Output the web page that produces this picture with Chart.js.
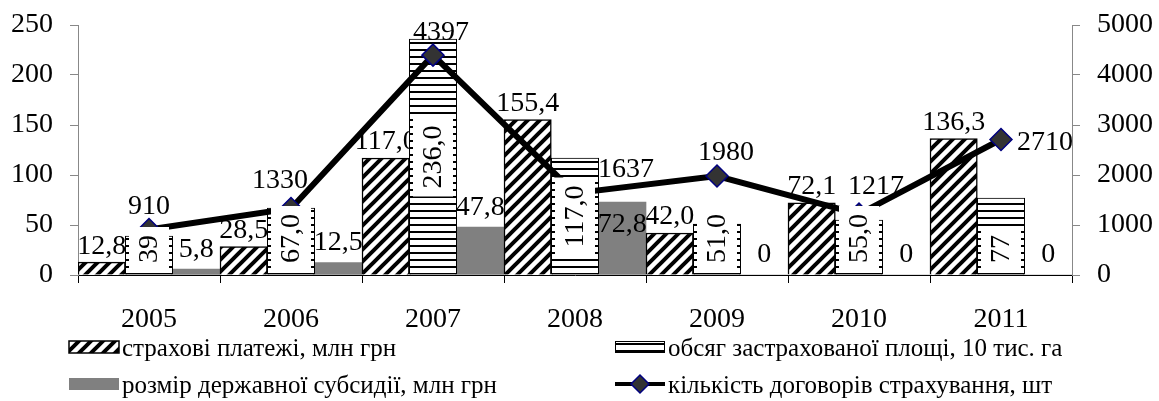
<!DOCTYPE html>
<html>
<head>
<meta charset="utf-8">
<script src="https://cdn.jsdelivr.net/npm/chart.js@4.4.1/dist/chart.umd.min.js"></script>
<style>
  html, body { margin: 0; padding: 0; background: #fff; }
  #wrap { width: 1159px; height: 401px; }
</style>
</head>
<body>
<div id="wrap"><canvas id="chart"></canvas></div>
<script>
// ---- data ----
const years = ['2005', '2006', '2007', '2008', '2009', '2010', '2011'];
const payments = [12.8, 28.5, 117.0, 155.4, 42.0, 72.1, 136.3];
const area = [39, 67, 236, 117, 51, 55, 77];
const areaLabels = ['39', '67,0', '236,0', '117,0', '51,0', '55,0', '77'];
const subsidy = [5.8, 12.5, 47.8, 72.8, 0, 0, 0];
const contracts = [910, 1330, 4397, 1637, 1980, 1217, 2710];
const leftTicks = [0, 50, 100, 150, 200, 250];
const rightTicks = [0, 1000, 2000, 3000, 4000, 5000];
const seriesNames = [
    'страхові платежі, млн грн',
    'обсяг застрахованої площі, 10 тис. га',
    'розмір державної субсидії, млн грн',
    'кількість договорів страхування, шт'
];
// label placement (style only, the labels were nudged by hand in the original)
const contractLabelPos = ['top', 'top', 'top', 'topright', 'top', 'top', 'right'];
const contractLabelNudge = [[0, 0], [-11, -5], [8, 0], [0, 0], [9, 0], [17, -5], [0, 0]];
const subsidyLabelPos = ['above', 'above', 'above', 'inside', 'above', 'above', 'above'];

const FAMILY = "'Liberation Serif', 'Times New Roman', serif";
const FONT = '28px ' + FAMILY;
const LEGEND_FONT = '25px ' + FAMILY;

const canvas = document.getElementById('chart');
const mainCtx = canvas.getContext('2d');

function diagPattern() {
    const c = document.createElement('canvas');
    c.width = 12; c.height = 12;
    const g = c.getContext('2d');
    g.fillStyle = '#fff';
    g.fillRect(0, 0, 12, 12);
    g.strokeStyle = '#000';
    g.lineWidth = 4;
    g.beginPath();
    g.moveTo(-3, 15); g.lineTo(15, -3);
    g.moveTo(-3, 3); g.lineTo(3, -3);
    g.moveTo(9, 15); g.lineTo(15, 9);
    g.stroke();
    return mainCtx.createPattern(c, 'repeat');
}

function stripePattern() {
    const c = document.createElement('canvas');
    c.width = 8; c.height = 7;
    const g = c.getContext('2d');
    g.fillStyle = '#fff';
    g.fillRect(0, 0, 8, 7);
    g.fillStyle = '#000';
    g.fillRect(0, 0, 8, 2);
    return mainCtx.createPattern(c, 'repeat');
}

const diag = diagPattern();
const stripes = stripePattern();

const fmt = v => v.toFixed(1).replace('.', ',');

function drawDiamond(ctx, x, y, r) {
    ctx.beginPath();
    ctx.moveTo(x, y - r);
    ctx.lineTo(x + r, y);
    ctx.lineTo(x, y + r);
    ctx.lineTo(x - r, y);
    ctx.closePath();
    ctx.fillStyle = '#333';
    ctx.fill();
    ctx.strokeStyle = '#000080';
    ctx.lineWidth = 1.5;
    ctx.stroke();
}

const labelPlugin = {
    id: 'valueLabels',
    beforeDatasetsDraw(chart) {
        // payments labels go under the bars (that is how "117," gets cut)
        const ctx = chart.ctx;
        ctx.save();
        ctx.font = FONT;
        ctx.fillStyle = '#000';
        ctx.textAlign = 'center';
        ctx.textBaseline = 'bottom';
        chart.getDatasetMeta(0).data.forEach((bar, i) => ctx.fillText(fmt(payments[i]), bar.x, bar.y - 2));
        ctx.restore();
    },
    afterDatasetsDraw(chart) {
        const ctx = chart.ctx;
        const base = chart.scales.y.getPixelForValue(0);
        ctx.save();
        ctx.font = FONT;
        ctx.fillStyle = '#000';

        // subsidy
        ctx.textAlign = 'center';
        ctx.textBaseline = 'bottom';
        chart.getDatasetMeta(2).data.forEach((bar, i) => {
            const t = subsidy[i] === 0 ? '0' : fmt(subsidy[i]);
            const y = subsidyLabelPos[i] === 'inside' ? bar.y + 36 : bar.y - 6;
            ctx.fillText(t, bar.x, y);
        });

        // area: rotated with white box
        chart.getDatasetMeta(1).data.forEach((bar, i) => {
            const txt = areaLabels[i];
            const w = ctx.measureText(txt).width;
            const len = w + 16;
            const mid = (bar.y + base) / 2;
            const cy = area[i] >= 100 ? mid : base - 12 - w / 2;
            ctx.save();
            ctx.translate(bar.x, cy);
            ctx.rotate(-Math.PI / 2);
            ctx.fillStyle = '#fff';
            ctx.fillRect(-len / 2, -20, len, 40);
            ctx.fillStyle = '#000';
            ctx.textAlign = 'center';
            ctx.textBaseline = 'middle';
            ctx.fillText(txt, 0, 1);
            ctx.restore();
        });

        // contracts
        chart.getDatasetMeta(3).data.forEach((pt, i) => {
            const t = String(contracts[i]);
            const pos = contractLabelPos[i];
            const [dx, dy] = contractLabelNudge[i];
            if (pos === 'top') {
                ctx.textAlign = 'center';
                ctx.textBaseline = 'bottom';
                ctx.fillText(t, pt.x + dx, pt.y - 9 + dy);
            } else if (pos === 'topright') {
                ctx.textAlign = 'left';
                ctx.textBaseline = 'bottom';
                ctx.fillText(t, pt.x + 23 + dx, pt.y - 10 + dy);
            } else {
                ctx.textAlign = 'left';
                ctx.textBaseline = 'middle';
                ctx.fillText(t, pt.x + 16 + dx, pt.y + 3 + dy);
            }
        });
        ctx.restore();
    },
    afterDraw(chart) {
        // legend, two columns
        const ctx = chart.ctx;
        const cols = [69, 615];
        const rows = [347, 384];
        ctx.save();
        ctx.font = LEGEND_FONT;
        ctx.textAlign = 'left';
        ctx.textBaseline = 'middle';

        // hatched
        ctx.fillStyle = diag;
        ctx.fillRect(cols[0], rows[0] - 6, 50, 12);
        ctx.strokeStyle = '#000';
        ctx.lineWidth = 1.5;
        ctx.strokeRect(cols[0], rows[0] - 6, 50, 12);
        // stripes
        ctx.fillStyle = stripes;
        ctx.fillRect(cols[1], rows[0] - 6, 50, 12);
        ctx.lineWidth = 1;
        ctx.strokeRect(cols[1] + 0.5, rows[0] - 5.5, 49, 11);
        // gray
        ctx.fillStyle = '#808080';
        ctx.fillRect(cols[0], rows[1] - 6, 50, 12);
        // line + diamond
        ctx.strokeStyle = '#000';
        ctx.lineWidth = 4;
        ctx.beginPath();
        ctx.moveTo(cols[1], rows[1]);
        ctx.lineTo(cols[1] + 50, rows[1]);
        ctx.stroke();
        drawDiamond(ctx, cols[1] + 25, rows[1], 9);

        ctx.fillStyle = '#000';
        ctx.fillText(seriesNames[0], cols[0] + 53, rows[0] + 2);
        ctx.fillText(seriesNames[1], cols[1] + 53, rows[0] + 2);
        ctx.fillText(seriesNames[2], cols[0] + 53, rows[1] + 2);
        ctx.fillText(seriesNames[3], cols[1] + 53, rows[1] + 2);
        ctx.restore();
    }
};

function fitVertical(width) {
    return function (scale) {
        scale.width = width;
        scale.paddingTop = 0;
        scale.paddingBottom = 0;
    };
}

new Chart(canvas, {
    data: {
        labels: years,
        datasets: [
            {
                type: 'bar', label: seriesNames[0], data: payments, yAxisID: 'y',
                backgroundColor: diag, borderColor: '#000', borderWidth: 1.5,
                categoryPercentage: 1, barPercentage: 1, order: 0
            },
            {
                type: 'bar', label: seriesNames[1], data: area, yAxisID: 'y',
                backgroundColor: stripes, borderColor: '#000', borderWidth: 1,
                categoryPercentage: 1, barPercentage: 1, order: 0
            },
            {
                type: 'bar', label: seriesNames[2], data: subsidy, yAxisID: 'y',
                backgroundColor: '#808080', borderWidth: 0,
                categoryPercentage: 1, barPercentage: 1, order: 0
            },
            {
                type: 'line', label: seriesNames[3], data: contracts, yAxisID: 'y1',
                borderColor: '#000', borderWidth: 6, tension: 0,
                pointStyle: 'rectRot', pointRadius: 11, pointHoverRadius: 11,
                pointBackgroundColor: '#333', pointBorderColor: '#000080', pointBorderWidth: 1.5,
                order: -1
            }
        ]
    },
    options: {
        responsive: true,
        maintainAspectRatio: false,
        animation: false,
        layout: { padding: { top: 25, left: 0, right: 0, bottom: 0 } },
        plugins: {
            legend: { display: false },
            tooltip: { enabled: false }
        },
        scales: {
            x: {
                offset: true,
                grid: { offset: true, drawOnChartArea: false, tickLength: 8, color: '#000' },
                border: { color: '#000' },
                ticks: { color: '#000', font: { family: FAMILY, size: 28 }, padding: 20 },
                afterFit(scale) { scale.height = 126; }
            },
            y: {
                position: 'left',
                min: 0, max: 250,
                afterBuildTicks(scale) { scale.ticks = leftTicks.map(v => ({ value: v })); },
                grid: { drawOnChartArea: false, tickLength: 8, color: '#888' },
                border: { color: '#888' },
                ticks: { color: '#000', font: { family: FAMILY, size: 28 }, padding: 17, callback: v => String(v) },
                afterFit: fitVertical(78)
            },
            y1: {
                position: 'right',
                min: 0, max: 5000,
                afterBuildTicks(scale) { scale.ticks = rightTicks.map(v => ({ value: v })); },
                grid: { drawOnChartArea: false, tickLength: 8, color: '#888' },
                border: { color: '#888' },
                ticks: { color: '#000', font: { family: FAMILY, size: 28 }, padding: 17, callback: v => String(v) },
                afterFit: fitVertical(87)
            }
        }
    },
    plugins: [labelPlugin]
});
</script>
</body>
</html>
